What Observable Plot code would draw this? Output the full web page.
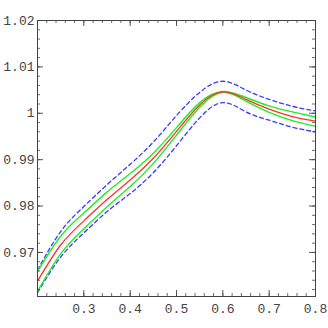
<!DOCTYPE html>
<html><head><meta charset="utf-8">
<script src="https://cdn.jsdelivr.net/npm/d3@7"></script>
<script src="https://cdn.jsdelivr.net/npm/@observablehq/plot@0.6"></script>
<style>body{margin:0;background:#fff}</style>
</head><body><div id="chart"></div>
<script>
const xs         = [0.20, 0.25, 0.30, 0.35, 0.40, 0.45, 0.50, 0.55, 0.60, 0.65, 0.70, 0.75, 0.80];
const red        = [0.9638, 0.9716, 0.9768, 0.9814, 0.9856, 0.9903, 0.9961, 1.0018, 1.0046, 1.0030, 1.0009, 0.9993, 0.9983];
const greenUpper = [0.9659, 0.9735, 0.9785, 0.9830, 0.9870, 0.9914, 0.9969, 1.0023, 1.0047, 1.0034, 1.0016, 1.0003, 0.9992];
const greenLower = [0.9616, 0.9697, 0.9751, 0.9798, 0.9842, 0.9892, 0.9953, 1.0013, 1.0045, 1.0026, 1.0002, 0.9984, 0.9972];
const blueUpper  = [0.9662, 0.9745, 0.9799, 0.9846, 0.9890, 0.9938, 0.9995, 1.0045, 1.0069, 1.0050, 1.0030, 1.0015, 1.0005];
const blueLower  = [0.9613, 0.9690, 0.9742, 0.9788, 0.9827, 0.9872, 0.9930, 0.9990, 1.0023, 1.0003, 0.9985, 0.9970, 0.9960];

const xTickValues = [0.3, 0.4, 0.5, 0.6, 0.7, 0.8];
const xTickLabels = ["0.3", "0.4", "0.5", "0.6", "0.7", "0.8"];
const yTickValues = [0.97, 0.98, 0.99, 1.00, 1.01, 1.02];
const yTickLabels = ["0.97", "0.98", "0.99", "1", "1.01", "1.02"];

const W = 328, H = 328, mL = 37, mR = 13, mT = 20, mB = 32;
const fw = W - mL - mR, fh = H - mT - mB;
const ser = ys => xs.map((x, i) => ({x, y: ys[i]}));
const xMajor = d3.range(2, 9).map(i => +(i * 0.1).toFixed(1));
const xMinor = d3.range(11, 40).map(i => +(i * 0.02).toFixed(2));
const yMajor = d3.range(97, 103).map(i => +(i * 0.01).toFixed(2));
const yMinor = d3.range(481, 510).map(i => +(i * 0.002).toFixed(3));
const xLab = new Map(xTickValues.map((v, i) => [v, xTickLabels[i]]));
const yLab = new Map(yTickValues.map((v, i) => [v, yTickLabels[i]]));
const ink = "#444";

const chart = Plot.plot({
  width: W, height: H,
  marginLeft: mL, marginRight: mR, marginTop: mT, marginBottom: mB,
  style: {fontFamily: "Liberation Mono, DejaVu Sans Mono, monospace", fontSize: "13px", color: ink, background: "#fff"},
  x: {domain: [0.2, 0.8], axis: null},
  y: {domain: [0.9605, 1.02], axis: null},
  marks: [
    Plot.line(ser(blueUpper), {x: "x", y: "y", stroke: "#3a3aff", strokeWidth: 1.3, strokeDasharray: "4,3", curve: "natural"}),
    Plot.line(ser(blueLower), {x: "x", y: "y", stroke: "#3a3aff", strokeWidth: 1.3, strokeDasharray: "4,3", curve: "natural"}),
    Plot.line(ser(greenUpper), {x: "x", y: "y", stroke: "#22ee22", strokeWidth: 1.4, curve: "natural"}),
    Plot.line(ser(greenLower), {x: "x", y: "y", stroke: "#22ee22", strokeWidth: 1.4, curve: "natural"}),
    Plot.line(ser(red), {x: "x", y: "y", stroke: "#ff3030", strokeWidth: 1.3, curve: "natural"}),
    Plot.tickX(xMinor, {x: d => d, insetTop: fh - 3, stroke: ink, strokeWidth: 0.8}),
    Plot.tickX(xMinor, {x: d => d, insetBottom: fh - 3, stroke: ink, strokeWidth: 0.8}),
    Plot.tickY(yMinor, {y: d => d, insetRight: fw - 3, stroke: ink, strokeWidth: 0.8}),
    Plot.tickY(yMinor, {y: d => d, insetLeft: fw - 3, stroke: ink, strokeWidth: 0.8}),
    Plot.tickX(xMajor, {x: d => d, insetTop: fh - 6, stroke: ink, strokeWidth: 0.9}),
    Plot.tickX(xMajor, {x: d => d, insetBottom: fh - 6, stroke: ink, strokeWidth: 0.9}),
    Plot.tickY(yMajor, {y: d => d, insetRight: fw - 6, stroke: ink, strokeWidth: 0.9}),
    Plot.tickY(yMajor, {y: d => d, insetLeft: fw - 6, stroke: ink, strokeWidth: 0.9}),
    Plot.frame({stroke: ink, strokeWidth: 1}),
    Plot.axisX(xTickValues, {anchor: "bottom", tickSize: 0, tickPadding: 7, tickFormat: d => xLab.get(d), fill: ink, label: null}),
    Plot.axisY(yTickValues, {anchor: "left", tickSize: 0, tickPadding: 3, tickFormat: d => yLab.get(d), fill: ink, label: null})
  ]
});
document.getElementById("chart").appendChild(chart);
</script>
</body></html>
